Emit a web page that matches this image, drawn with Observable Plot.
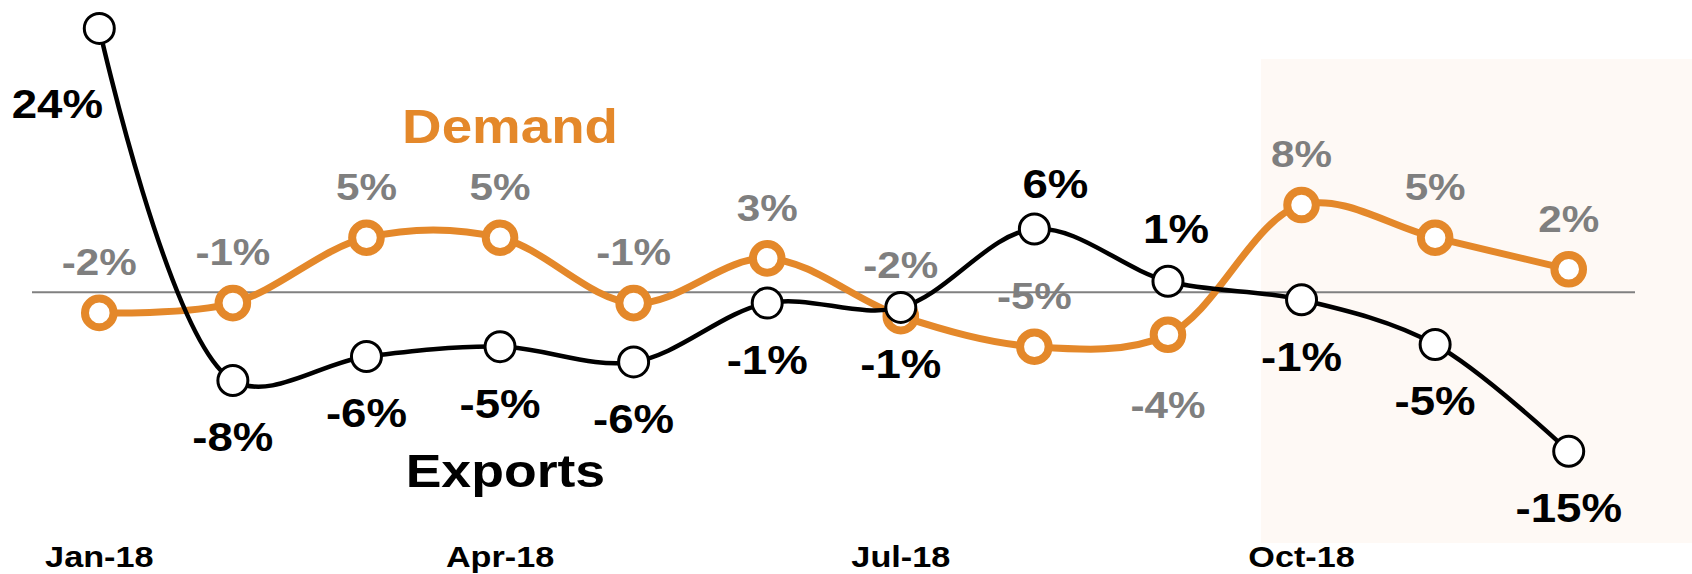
<!DOCTYPE html>
<html>
<head>
<meta charset="utf-8">
<script src="https://cdn.jsdelivr.net/npm/d3@7"></script>
<script src="https://cdn.jsdelivr.net/npm/@observablehq/plot@0.6"></script>
<style>
  html, body { margin: 0; padding: 0; background: #ffffff; }
  #chart { width: 1692px; height: 574px; overflow: hidden; }
</style>
</head>
<body>
<div id="chart"></div>
<script>
// ---------- DATA ----------
const months = ["Jan-18","Feb-18","Mar-18","Apr-18","May-18","Jun-18","Jul-18","Aug-18","Sep-18","Oct-18","Nov-18","Dec-18"];
const tickMonths = ["Jan-18","Apr-18","Jul-18","Oct-18"];
const exportsValues = [24.2, -8.1, -5.9, -5.0, -6.4, -1.0, -1.4, 5.8, 1.0, -0.7, -4.8, -14.6];
const demandValues  = [-1.9, -1.0, 5.0, 5.0, -1.0, 3.1, -2.2, -5.0, -3.9, 8.0, 5.0, 2.1];
const seriesNames = ["Exports", "Demand"];
const highlightFrom = "Oct-18";

// ---------- STYLE / LAYOUT ----------
const ORANGE = "#E4882A";
const GRAY = "#7F7F7F";
const FONT = "'Liberation Sans', Arial, Helvetica, sans-serif";
const STRETCH = 1.14;
const FS_BLACK = 40, FS_GRAY = 37, FS_MONTH = 30;

// label offsets in px (dx, dy relative to point; dy to ink centre)
const demandOffsets = { default: [0, -51], "Sep-18": [0, 70] };
const exportsOffsets = { default: [0, 56.5], "Jan-18": [-42, 75], "Aug-18": [21, -45], "Sep-18": [8, -53] };
// series name placement (data units)
const nameLayout = {
  Demand:  { x: months.indexOf("Apr-18") + 0.075, y: 15.3,  fs: 48, fill: ORANGE },
  Exports: { x: months.indexOf("Apr-18") + 0.04,  y: -16.3, fs: 47, fill: "#000" }
};

const data = months.map((m, i) => ({
  i, month: m,
  exports: exportsValues[i],
  demand: demandValues[i],
  exportsLabel: Math.round(exportsValues[i]) + "%",
  demandLabel: Math.round(demandValues[i]) + "%"
}));

function labelMarks(offsets, yField, textField, fill, fs) {
  const special = Object.keys(offsets).filter(k => k !== "default");
  const groups = [[data.filter(d => !special.includes(d.month)), offsets.default]]
    .concat(special.map(k => [data.filter(d => d.month === k), offsets[k]]));
  return groups.map(([rows, [dx, dy]]) => Plot.text(rows, {
    x: "i", y: yField, text: textField, dx, dy: dy + 0.04 * fs,
    fill, fontSize: fs, fontWeight: "bold", textAnchor: "middle"
  }));
}

const chart = Plot.plot({
  width: 1692,
  height: 574,
  marginLeft: 32,
  marginRight: 57,
  marginTop: 0,
  marginBottom: 29,
  style: { fontFamily: FONT, fontWeight: "bold", background: "#fff" },
  x: { domain: [-0.5, 11.5], axis: null },
  y: { domain: [-23.24, 26.76], axis: null },
  marks: [
    Plot.rect([0], {
      x1: months.indexOf(highlightFrom) - 0.3, x2: 11.93,
      y1: -23.06, y2: 21.35, fill: "#FEF9F5"
    }),
    Plot.ruleY([0], { stroke: "#808080", strokeWidth: 2 }),
    Plot.line(data, { x: "i", y: "demand", stroke: ORANGE, strokeWidth: 7, curve: "catmull-rom" }),
    Plot.dot(data, { x: "i", y: "demand", r: 14.3, fill: "#fff", stroke: ORANGE, strokeWidth: 8 }),
    Plot.line(data, { x: "i", y: "exports", stroke: "#000", strokeWidth: 4.5, curve: "catmull-rom" }),
    Plot.dot(data, { x: "i", y: "exports", r: 15, fill: "#fff", stroke: "#000", strokeWidth: 3 }),
    ...labelMarks(demandOffsets, "demand", "demandLabel", GRAY, FS_GRAY),
    ...labelMarks(exportsOffsets, "exports", "exportsLabel", "#000", FS_BLACK),
    ...seriesNames.map(n => Plot.text([n], {
      x: nameLayout[n].x, y: nameLayout[n].y, text: d => d,
      fill: nameLayout[n].fill, fontSize: nameLayout[n].fs, fontWeight: "bold",
      dy: 0.04 * nameLayout[n].fs
    })),
    Plot.axisX({
      ticks: tickMonths.map(m => months.indexOf(m)),
      tickFormat: i => months[i],
      tickSize: 0, tickPadding: 0, label: null,
      fontSize: FS_MONTH, fontWeight: "bold", fill: "#000", color: "#000"
    })
  ]
});

document.getElementById("chart").append(chart);
chart.querySelectorAll("text").forEach(t => {
  const len = t.getComputedTextLength();
  if (len > 0) {
    t.setAttribute("textLength", (len * STRETCH).toFixed(1));
    t.setAttribute("lengthAdjust", "spacingAndGlyphs");
  }
});
</script>
</body>
</html>
